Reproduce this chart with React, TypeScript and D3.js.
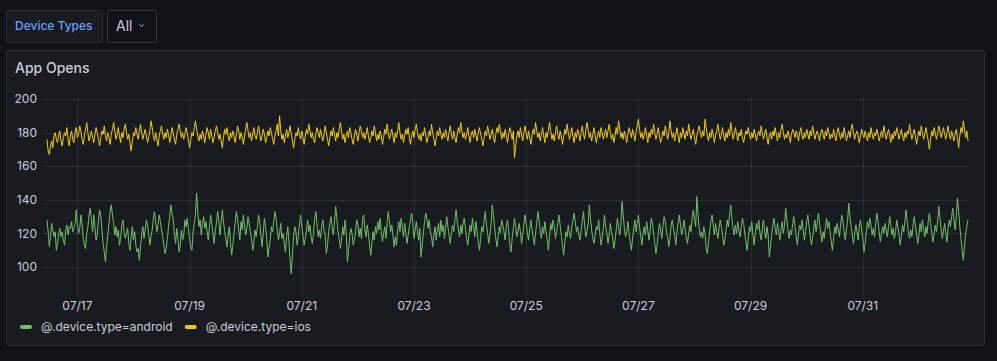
import React, { useEffect, useRef } from 'react'
import * as d3 from 'd3'

// half-hourly samples, first point 07/16 11:00 UTC
const startTime = Date.UTC(2023, 6, 16, 11)
const stepMs = 30 * 60 * 1000

const android = [
  128, 121, 112, 118, 126, 122, 118, 121, 110, 114, 120, 123, 118, 121, 116, 113, 122, 125, 119, 124,
  123, 127, 121, 123, 125, 134, 126, 120, 123, 131, 125, 117, 113, 111, 120, 124, 131, 135, 128, 121,
  131, 124, 116, 119, 128, 134, 130, 122, 114, 109, 103, 112, 119, 126, 133, 137, 131, 126, 119, 124,
  118, 122, 113, 117, 125, 128, 121, 117, 120, 123, 114, 110, 118, 124, 116, 121, 113, 109, 111, 104,
  112, 119, 124, 117, 122, 128, 125, 120, 113, 118, 122, 129, 133, 126, 121, 125, 131, 127, 122, 118,
  113, 108, 111, 117, 124, 130, 137, 132, 128, 120, 114, 123, 117, 109, 113, 122, 116, 119, 128, 124,
  129, 122, 117, 112, 110, 121, 126, 131, 144, 133, 124, 128, 119, 126, 130, 123, 127, 121, 116, 124,
  131, 126, 120, 114, 122, 126, 133, 128, 119, 126, 134, 127, 121, 117, 112, 119, 124, 115, 107, 113,
  120, 126, 133, 129, 122, 116, 127, 122, 131, 125, 119, 123, 130, 126, 121, 117, 110, 115, 122, 118,
  124, 131, 127, 119, 112, 120, 129, 124, 117, 106, 111, 116, 124, 121, 127, 133, 129, 122, 116, 120,
  126, 117, 120, 114, 109, 118, 124, 115, 104, 96, 107, 118, 124, 121, 113, 118, 126, 131, 124, 119,
  113, 117, 122, 128, 121, 125, 118, 114, 120, 129, 133, 126, 118, 122, 117, 124, 128, 122, 119, 108,
  113, 121, 126, 130, 124, 119, 127, 136, 129, 121, 117, 111, 116, 124, 119, 128, 121, 103, 110, 118,
  123, 120, 113, 116, 121, 128, 125, 118, 123, 117, 129, 131, 122, 118, 125, 120, 113, 107, 114, 121,
  116, 124, 120, 127, 122, 129, 121, 115, 120, 124, 117, 126, 133, 127, 121, 125, 119, 112, 118, 113,
  122, 127, 121, 129, 124, 118, 126, 120, 114, 119, 124, 128, 132, 126, 117, 122, 127, 121, 116, 123,
  106, 113, 120, 127, 132, 129, 123, 128, 121, 118, 112, 119, 124, 116, 122, 126, 118, 128, 121, 125,
  117, 123, 130, 124, 119, 114, 120, 125, 121, 128, 134, 127, 122, 118, 125, 120, 126, 129, 123, 117,
  113, 119, 125, 121, 129, 124, 118, 127, 121, 115, 110, 117, 124, 121, 128, 133, 125, 120, 114, 119,
  126, 137, 131, 123, 117, 112, 118, 124, 120, 128, 125, 121, 116, 124, 128, 122, 113, 109, 117, 123,
  129, 124, 118, 122, 126, 121, 114, 119, 125, 131, 126, 120, 116, 123, 128, 122, 118, 113, 120, 126,
  133, 128, 122, 117, 124, 120, 127, 121, 116, 110, 118, 126, 122, 128, 124, 117, 121, 126, 131, 125,
  119, 113, 107, 114, 121, 118, 125, 120, 117, 124, 128, 132, 127, 121, 124, 119, 116, 122, 127, 133,
  125, 118, 121, 126, 137, 129, 122, 117, 114, 119, 124, 122, 128, 120, 113, 117, 123, 131, 124, 120,
  114, 119, 126, 121, 117, 111, 116, 122, 129, 124, 119, 125, 139, 131, 123, 118, 121, 127, 120, 115,
  110, 117, 123, 128, 121, 126, 131, 124, 118, 113, 120, 124, 119, 127, 122, 116, 121, 129, 126, 120,
  114, 108, 113, 120, 126, 122, 117, 124, 130, 127, 121, 118, 112, 117, 125, 128, 123, 119, 113, 121,
  126, 131, 125, 119, 123, 128, 122, 117, 114, 120, 125, 121, 129, 134, 128, 124, 142, 131, 123, 118,
  121, 117, 124, 120, 111, 108, 115, 122, 127, 131, 125, 119, 126, 121, 117, 123, 128, 124, 119, 113,
  116, 122, 128, 124, 131, 137, 129, 123, 119, 125, 120, 127, 122, 118, 124, 129, 126, 120, 115, 110,
  117, 124, 121, 127, 119, 113, 120, 126, 122, 128, 120, 116, 123, 128, 121, 117, 124, 119, 106, 112,
  119, 125, 129, 123, 119, 126, 121, 116, 122, 127, 120, 125, 135, 128, 122, 117, 122, 119, 126, 130,
  124, 118, 113, 120, 125, 122, 128, 122, 116, 121, 127, 131, 124, 119, 113, 117, 123, 128, 121, 126,
  132, 126, 120, 115, 121, 117, 124, 129, 123, 127, 121, 115, 110, 117, 124, 120, 126, 122, 118, 125,
  131, 127, 121, 116, 122, 128, 138, 130, 124, 119, 114, 120, 125, 121, 116, 124, 128, 122, 117, 109,
  114, 121, 127, 123, 129, 125, 119, 123, 118, 126, 132, 127, 121, 115, 120, 124, 120, 126, 122, 118,
  124, 130, 125, 119, 123, 117, 121, 128, 124, 119, 113, 118, 125, 121, 127, 134, 127, 121, 117, 122,
  118, 125, 130, 125, 119, 114, 119, 126, 121, 128, 123, 118, 124, 120, 127, 132, 126, 120, 115, 120,
  125, 121, 127, 136, 129, 123, 117, 121, 126, 120, 115, 123, 128, 124, 130, 135, 128, 122, 130, 141,
  133, 124, 117, 110, 104, 112, 120, 124, 128,
]

const ios = [
  176, 169, 167, 172, 175, 171, 178, 180, 176, 174, 179, 181, 175, 172, 177, 180, 178, 183, 176, 172,
  178, 181, 176, 174, 180, 183, 177, 179, 184, 181, 176, 173, 178, 182, 186, 180, 175, 178, 181, 177,
  174, 179, 183, 180, 176, 172, 177, 181, 179, 184, 178, 175, 180, 177, 173, 179, 182, 186, 181, 176,
  179, 183, 178, 174, 180, 177, 182, 185, 180, 176, 179, 174, 169, 175, 180, 178, 183, 179, 176, 181,
  185, 180, 176, 179, 182, 178, 174, 177, 181, 187, 183, 178, 175, 180, 176, 172, 178, 181, 184, 179,
  176, 180, 177, 182, 179, 174, 178, 183, 180, 176, 173, 179, 182, 185, 181, 177, 180, 176, 179, 183,
  180, 175, 171, 176, 180, 178, 183, 187, 182, 178, 175, 179, 176, 181, 178, 174, 179, 183, 180, 176,
  182, 178, 174, 177, 181, 184, 180, 176, 179, 175, 171, 177, 182, 179, 183, 178, 175, 180, 177, 181,
  178, 174, 179, 184, 181, 176, 180, 177, 173, 178, 182, 186, 181, 177, 180, 175, 179, 183, 178, 176,
  180, 184, 179, 175, 178, 182, 179, 174, 177, 181, 178, 183, 180, 176, 173, 178, 181, 185, 178, 190,
  181, 176, 179, 174, 178, 182, 177, 180, 184, 179, 175, 171, 176, 180, 178, 183, 179, 176, 181, 177,
  173, 178, 182, 179, 185, 181, 177, 180, 176, 174, 179, 183, 180, 177, 182, 178, 175, 179, 184, 180,
  176, 172, 177, 181, 178, 183, 179, 175, 180, 177, 182, 186, 181, 176, 179, 174, 178, 181, 177, 183,
  180, 176, 173, 178, 182, 179, 175, 180, 184, 181, 177, 180, 176, 179, 183, 178, 174, 177, 181, 178,
  184, 180, 175, 179, 176, 181, 178, 173, 177, 182, 179, 185, 180, 176, 179, 182, 178, 174, 180, 177,
  181, 186, 180, 176, 179, 174, 178, 182, 179, 183, 177, 173, 178, 181, 177, 182, 185, 180, 176, 179,
  175, 180, 178, 183, 179, 174, 177, 181, 178, 185, 180, 176, 172, 177, 181, 178, 183, 179, 176, 180,
  177, 182, 178, 175, 180, 184, 179, 176, 181, 177, 174, 179, 183, 180, 186, 181, 177, 180, 176, 179,
  183, 178, 174, 179, 181, 177, 182, 178, 175, 180, 183, 179, 176, 172, 177, 181, 178, 184, 180, 176,
  179, 182, 177, 174, 179, 183, 180, 185, 181, 176, 180, 177, 182, 178, 174, 179, 183, 180, 176, 181,
  165, 172, 178, 181, 177, 183, 179, 175, 180, 184, 179, 176, 181, 177, 173, 178, 182, 179, 186, 181,
  177, 180, 175, 179, 183, 178, 174, 180, 177, 182, 186, 181, 176, 179, 175, 180, 184, 179, 176, 181,
  178, 173, 177, 182, 179, 185, 180, 176, 179, 183, 178, 174, 180, 177, 182, 179, 175, 180, 184, 179,
  176, 181, 186, 182, 177, 180, 175, 179, 183, 178, 174, 178, 181, 177, 183, 180, 176, 179, 182, 177,
  181, 185, 180, 176, 179, 174, 178, 183, 179, 187, 182, 177, 180, 176, 181, 178, 174, 179, 183, 180,
  177, 182, 179, 175, 180, 184, 188, 182, 177, 180, 176, 179, 183, 178, 174, 180, 177, 182, 179, 185,
  180, 176, 179, 183, 178, 174, 177, 181, 178, 184, 180, 176, 180, 187, 181, 177, 180, 175, 179, 183,
  178, 174, 180, 177, 183, 179, 176, 181, 178, 185, 180, 176, 179, 182, 177, 173, 178, 181, 184, 180,
  177, 181, 178, 188, 183, 178, 175, 180, 177, 182, 179, 174, 178, 181, 185, 180, 176, 179, 183, 178,
  175, 180, 177, 182, 178, 186, 181, 176, 179, 183, 179, 175, 180, 178, 182, 177, 174, 178, 181, 179,
  183, 179, 176, 180, 177, 182, 179, 175, 179, 181, 178, 184, 180, 176, 179, 182, 177, 173, 178, 180,
  176, 181, 178, 183, 179, 175, 180, 177, 182, 185, 180, 176, 179, 177, 181, 178, 174, 179, 182, 180,
  177, 181, 179, 175, 180, 183, 178, 176, 180, 177, 182, 179, 176, 181, 178, 184, 180, 176, 179, 181,
  178, 175, 180, 182, 179, 176, 181, 178, 183, 180, 176, 179, 177, 182, 178, 175, 180, 183, 179, 176,
  180, 177, 183, 179, 175, 178, 181, 177, 182, 185, 180, 176, 179, 181, 178, 174, 178, 182, 179, 177,
  181, 178, 175, 180, 177, 183, 179, 176, 180, 178, 182, 179, 175, 178, 181, 177, 184, 180, 176, 179,
  182, 178, 174, 179, 176, 181, 178, 183, 180, 176, 179, 182, 178, 175, 180, 177, 181, 179, 185, 180,
  176, 179, 182, 178, 173, 177, 181, 178, 184, 180, 176, 179, 183, 179, 175, 170, 176, 181, 178, 183,
  180, 176, 179, 184, 181, 177, 180, 183, 179, 176, 180, 184, 179, 176, 181, 178, 175, 179, 182, 177,
  171, 178, 183, 180, 187, 182, 177, 181, 175,
]

const yTicks = [100, 120, 140, 160, 180, 200]
const series = [
  { name: '@.device.type=android', values: android, color: '#73BF69' },
  { name: '@.device.type=ios', values: ios, color: '#F2CC0C' },
]

const W = 997
const H = 361
const plot = { left: 44, right: 968, top: 99, bottom: 296, dataLeft: 47 }
const text = '#ccccdc'
const grid = 'rgba(240,250,255,0.09)'

export default function App() {
  const ref = useRef<SVGSVGElement>(null)

  useEffect(() => {
    const svg = d3.select(ref.current)
    svg.selectAll('*').remove()

    const n = android.length
    const x = d3.scaleUtc()
      .domain([new Date(startTime), new Date(startTime + (n - 1) * stepMs)])
      .range([plot.dataLeft, plot.right])
    // 20 units ~ 33.6px, 200 sits at the plot top
    const y = d3.scaleLinear()
      .domain([200 - (plot.bottom - plot.top) / 1.68, 200])
      .range([plot.bottom, plot.top])

    svg.append('rect').attr('width', W).attr('height', H).attr('fill', '#111217')

    // variable picker
    svg.append('rect')
      .attr('x', 6.5).attr('y', 10.5).attr('width', 96).attr('height', 32).attr('rx', 2)
      .attr('fill', '#181b1f').attr('stroke', 'rgba(204,204,220,0.12)')
    svg.append('text')
      .attr('x', 15).attr('y', 30).attr('fill', '#6e9fff')
      .attr('font-size', 12).attr('font-weight', 500).text('Device Types')
    svg.append('rect')
      .attr('x', 107.5).attr('y', 10.5).attr('width', 49).attr('height', 32).attr('rx', 2)
      .attr('fill', '#111217').attr('stroke', 'rgba(204,204,220,0.2)')
    svg.append('text')
      .attr('x', 116).attr('y', 31).attr('fill', text).attr('font-size', 14).text('All')
    svg.append('path')
      .attr('d', 'M139.5,24.5 L141.5,26.5 L143.5,24.5')
      .attr('fill', 'none').attr('stroke', text).attr('stroke-width', 1)

    // panel
    svg.append('rect')
      .attr('x', 6.5).attr('y', 50.5).attr('width', 978).attr('height', 295).attr('rx', 2)
      .attr('fill', '#181b1f').attr('stroke', 'rgba(204,204,220,0.12)')
    svg.append('text')
      .attr('x', 15).attr('y', 73).attr('fill', text)
      .attr('font-size', 14).attr('font-weight', 500).text('App Opens')

    // grid
    const g = svg.append('g')
    g.selectAll('line.h').data(yTicks).join('line')
      .attr('x1', plot.left).attr('x2', plot.right)
      .attr('y1', d => Math.round(y(d)) + 0.5).attr('y2', d => Math.round(y(d)) + 0.5)
      .attr('stroke', grid)
    const xTicks = d3.utcDay.every(2)!.range(new Date(Date.UTC(2023, 6, 17)), new Date(Date.UTC(2023, 7, 1)))
    g.selectAll('line.v').data(xTicks).join('line')
      .attr('x1', d => Math.round(x(d)) + 0.5).attr('x2', d => Math.round(x(d)) + 0.5)
      .attr('y1', plot.top).attr('y2', plot.bottom)
      .attr('stroke', grid)

    g.selectAll('text.y').data(yTicks).join('text')
      .attr('x', 37).attr('y', d => y(d)).attr('dy', '0.35em')
      .attr('text-anchor', 'end').attr('fill', text).attr('font-size', 12)
      .text(d => d)
    const fmt = d3.utcFormat('%m/%d')
    g.selectAll('text.x').data(xTicks).join('text')
      .attr('x', d => x(d)).attr('y', 306).attr('dy', '0.35em')
      .attr('text-anchor', 'middle').attr('fill', text).attr('font-size', 12)
      .text(d => fmt(d))

    // lines
    const line = d3.line<number>()
      .x((_, i) => x(new Date(startTime + i * stepMs)))
      .y(d => y(d))
    svg.append('g').selectAll('path').data(series).join('path')
      .attr('d', d => line(d.values))
      .attr('fill', 'none').attr('stroke', d => d.color).attr('stroke-width', 1)
      .attr('stroke-linejoin', 'round')

    // legend
    let lx = 20
    series.forEach(s => {
      svg.append('rect')
        .attr('x', lx).attr('y', 325).attr('width', 12).attr('height', 4).attr('rx', 2)
        .attr('fill', s.color)
      const t = svg.append('text')
        .attr('x', lx + 21).attr('y', 327).attr('dy', '0.35em')
        .attr('fill', text).attr('font-size', 12).text(s.name)
      const w = (t.node() as SVGTextElement).getComputedTextLength()
      lx += 21 + w + 12
    })
  }, [])

  return (
    <div style={{ position: 'fixed', left: 0, top: 0, width: W, height: H, background: '#111217' }}>
      <svg ref={ref} width={W} height={H} style={{ display: 'block', fontFamily: 'Inter, sans-serif' }} />
    </div>
  )
}
